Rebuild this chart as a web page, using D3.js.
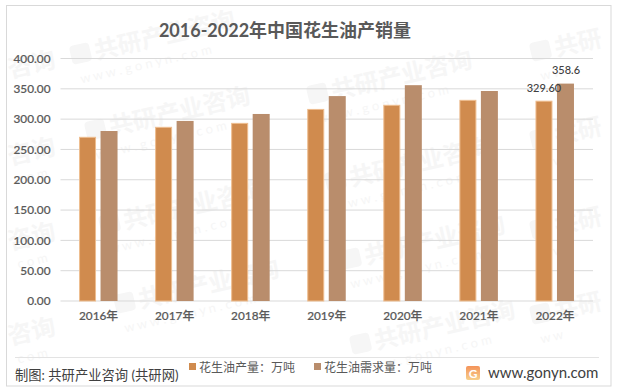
<!DOCTYPE html>
<html lang="zh">
<head>
    <meta charset="UTF-8">
    <title>2016-2022年中国花生油产销量</title>
    <script src="https://d3js.org/d3.v7.min.js"></script>
    <style>
        html, body { margin: 0; padding: 0; background: #fff; }
        svg { display: block; }
        text { font-family: Lato, "Noto Sans CJK SC", sans-serif; }
    </style>
</head>
<body>
    <svg id="chart" width="621" height="391"></svg>
    <script>
        const years = ['2016年', '2017年', '2018年', '2019年', '2020年', '2021年', '2022年'];
        const production = [270, 286.5, 293, 316, 322.8, 331, 329.6];
        const demand = [280.4, 297, 308.5, 338, 356, 346.4, 358.6];
        const yTicks = [0, 50, 100, 150, 200, 250, 300, 350, 400];

        const orange = '#d08b4e';
        const brown = '#b98d6c';
        const textColor = '#595959';
        const fontStack = 'Lato, "Noto Sans CJK SC", sans-serif';

        const svg = d3.select('#chart');
        const x = d3.scaleBand().domain(years).range([60.5, 593]);
        const y = d3.scaleLinear().domain([0, 400]).range([301, 58.5]);
        const barW = 17;

        // frame
        svg.append('rect').attr('x', 6.5).attr('y', 5.5).attr('width', 604.5).attr('height', 380.5)
            .attr('fill', '#fff').attr('stroke', '#d9d9d9').attr('stroke-width', 1);

        // watermark, very faint, sits behind the bars. edge ones only show part of the text
        const marks = [
            [73, 65, '共研产业咨询', 'w w w . g o n y n . c o m'],
            [88, 141, '共研产业咨询', 'w w w . g o n y n . c o m'],
            [102, 235, '共研产业咨询', 'w w w . g o n y n . c o m'],
            [117, 314, '共研产业咨询', 'w w w . g o n y n . c o m'],
            [310, 105, '共研产业咨询', 'w w w . g o n y n . c o m'],
            [328, 192, '共研产业咨询', 'w w w . g o n y n . c o m'],
            [343, 270, '共研产业咨询', 'w w w . g o n y n . c o m'],
            [353, 355, '共研产业咨询', 'w w w . g o n y n . c o m'],
            [10, 78, '咨询', ''],
            [10, 165, '咨询', 'c o m'],
            [10, 250, '咨询', 'c o m'],
            [10, 345, '咨询', 'c o m'],
            [533, 62, '共研', 'w w'],
            [533, 150, '共研', 'w w'],
            [533, 240, '共研', 'w w'],
            [533, 325, '共研', 'w w']
        ];
        const wm = svg.append('g');
        marks.forEach(m => {
            const g = wm.append('g').attr('transform', `translate(${m[0]},${m[1]}) rotate(-13)`);
            const offset = m[2].length > 2 ? 24 : 0;
            if (m[2].length > 2 || m[3] === 'w w') {
                g.append('rect').attr('x', 0).attr('y', -19).attr('width', 20).attr('height', 19).attr('rx', 4)
                    .attr('fill', '#f6f6f6');
            }
            g.append('text').text(m[2]).attr('x', m[3] === 'w w' ? 24 : offset)
                .attr('font-size', 24).attr('font-weight', 700).attr('fill', '#f6f6f6');
            g.append('text').text(m[3]).attr('x', 4).attr('y', 20)
                .attr('font-size', 13).attr('fill', '#f6f6f6');
        });

        // grid
        svg.append('g').selectAll('line').data(yTicks).join('line')
            .attr('x1', 60.5).attr('x2', 593)
            .attr('y1', d => y(d)).attr('y2', d => y(d))
            .attr('stroke', '#d9d9d9').attr('stroke-width', 1);

        // y axis
        const yAxis = svg.append('g').attr('transform', 'translate(60.5,0)')
            .call(d3.axisLeft(y).tickValues(yTicks).tickSize(0).tickPadding(10).tickFormat(d3.format('.2f')));
        yAxis.select('.domain').remove();
        yAxis.selectAll('text').attr('font-size', 11.8).attr('font-weight', 500).attr('fill', textColor)
            .attr('stroke', textColor).attr('stroke-width', 0.2)
            .style('font-family', fontStack);

        // x axis
        const xAxis = svg.append('g').attr('transform', 'translate(0,301)')
            .call(d3.axisBottom(x).tickSize(0).tickPadding(11));
        xAxis.select('.domain').remove();
        xAxis.selectAll('text').attr('font-size', 11.8).attr('font-weight', 500).attr('fill', textColor)
            .attr('stroke', textColor).attr('stroke-width', 0.2)
            .style('font-family', fontStack);

        // bars
        const center = d => x(d) + x.bandwidth() / 2;
        svg.append('g').selectAll('rect').data(years).join('rect')
            .attr('x', d => center(d) - 19)
            .attr('y', (d, i) => y(production[i]))
            .attr('width', barW - 1)
            .attr('height', (d, i) => y(0) - y(production[i]))
            .attr('fill', orange).attr('stroke', '#eebd8f').attr('stroke-width', 1);
        svg.append('g').selectAll('rect').data(years).join('rect')
            .attr('x', d => center(d) + 2)
            .attr('y', (d, i) => y(demand[i]))
            .attr('width', barW)
            .attr('height', (d, i) => y(0) - y(demand[i]))
            .attr('fill', brown);

        // the two labels on the last year
        const last = years[years.length - 1];
        svg.append('text').text(production[6].toFixed(2))
            .attr('x', center(last) - 11).attr('y', 92).attr('text-anchor', 'middle')
            .attr('font-size', 11).attr('font-weight', 500).attr('fill', '#404040');
        svg.append('text').text(String(demand[6]))
            .attr('x', center(last) + 11).attr('y', 74).attr('text-anchor', 'middle')
            .attr('font-size', 11).attr('font-weight', 500).attr('fill', '#404040');

        // title
        svg.append('text').text('2016-2022年中国花生油产销量')
            .attr('x', 285).attr('y', 37).attr('text-anchor', 'middle')
            .attr('font-size', 18).attr('font-weight', 700).attr('fill', textColor);

        // footer
        svg.append('line').attr('x1', 15).attr('x2', 599).attr('y1', 357.5).attr('y2', 357.5)
            .attr('stroke', '#e3e3e3').attr('stroke-width', 1);
        svg.append('text').text('制图: 共研产业咨询 (共研网)').attr('x', 15).attr('y', 380)
            .attr('font-size', 13.3).attr('fill', '#404040');

        // legend
        const legend = [
            { name: '花生油产量：万吨', color: orange, lx: 189 },
            { name: '花生油需求量：万吨', color: brown, lx: 314 }
        ];
        legend.forEach(l => {
            svg.append('rect').attr('x', l.lx).attr('y', 363).attr('width', 7).attr('height', 7).attr('fill', l.color);
            svg.append('text').text(l.name).attr('x', l.lx + 10).attr('y', 372)
                .attr('font-size', 12).attr('fill', textColor);
        });

        // site logo
        const grad = svg.append('defs').append('linearGradient').attr('id', 'logoGrad')
            .attr('x1', 0).attr('y1', 0).attr('x2', 0).attr('y2', 1);
        grad.append('stop').attr('offset', 0).attr('stop-color', '#f4935a');
        grad.append('stop').attr('offset', 1).attr('stop-color', '#f7cf8a');
        svg.append('rect').attr('x', 466).attr('y', 366).attr('width', 14).attr('height', 14).attr('rx', 2)
            .attr('fill', 'url(#logoGrad)');
        svg.append('text').text('G').attr('x', 473).attr('y', 377.5).attr('text-anchor', 'middle')
            .attr('font-size', 12).attr('font-weight', 700).attr('fill', '#fff');
        svg.append('text').text('www.gonyn.com').attr('x', 488).attr('y', 378)
            .attr('font-size', 15).attr('fill', '#404040');
    </script>
</body>
</html>
